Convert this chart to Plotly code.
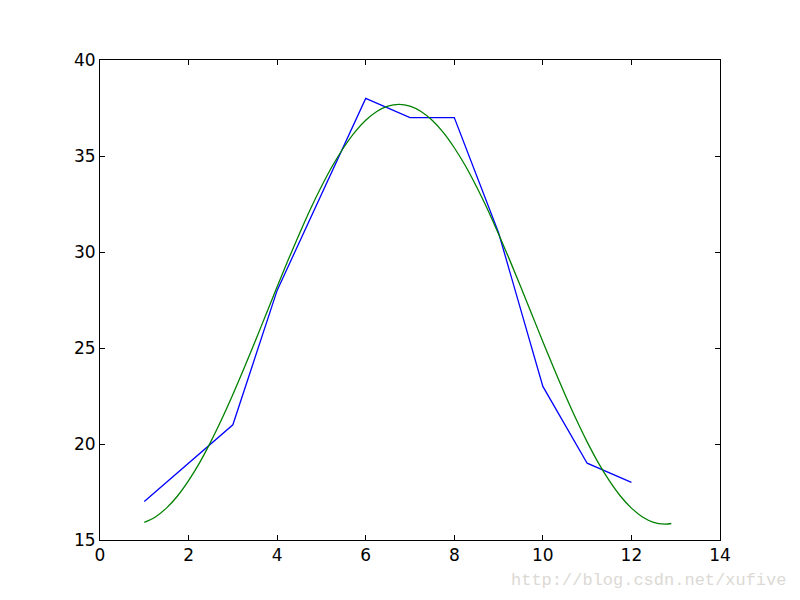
import plotly.graph_objects as go

# Monthly data (blue line)
months = [1, 2, 3, 4, 5, 6, 7, 8, 9, 10, 11, 12]
temps = [17, 19, 21, 28, 33, 38, 37, 37, 31, 23, 19, 18]

# Fitted curve (green)
fit_x = [1.0, 1.25, 1.5, 1.75, 2.0, 2.25, 2.5, 2.75, 3.0, 3.25, 3.5, 3.75,
         4.0, 4.25, 4.5, 4.75, 5.0, 5.25, 5.5, 5.75, 6.0, 6.25, 6.5, 6.75,
         7.0, 7.25, 7.5, 7.75, 8.0, 8.25, 8.5, 8.75, 9.0, 9.25, 9.5, 9.75,
         10.0, 10.25, 10.5, 10.75, 11.0, 11.25, 11.5, 11.75, 12.0, 12.25,
         12.5, 12.75, 12.9]
fit_y = [15.92, 16.20, 16.66, 17.29, 18.09, 19.03, 20.11, 21.30, 22.58, 23.93,
         25.33, 26.76, 28.19, 29.59, 30.94, 32.23, 33.41, 34.49, 35.43, 36.23,
         36.86, 37.32, 37.60, 37.69, 37.60, 37.32, 36.86, 36.23, 35.43, 34.49,
         33.41, 32.23, 30.94, 29.59, 28.19, 26.76, 25.33, 23.93, 22.58, 21.30,
         20.11, 19.03, 18.09, 17.29, 16.66, 16.20, 15.92, 15.83, 15.86]

x_ticks = [0, 2, 4, 6, 8, 10, 12, 14]
y_ticks = [15, 20, 25, 30, 35, 40]

fig = go.Figure()
fig.add_trace(go.Scatter(x=months, y=temps, mode="lines",
                         line=dict(color="#0000ff", width=1.3)))
fig.add_trace(go.Scatter(x=fit_x, y=fit_y, mode="lines", line_shape="spline",
                         line=dict(color="#008000", width=1.3)))

axis_common = dict(showgrid=False, zeroline=False, showline=True,
                   linecolor="black", linewidth=1, mirror="allticks",
                   ticks="inside", ticklen=5, tickcolor="black",
                   tickfont=dict(family="DejaVu Sans", size=17, color="black"))

fig.update_xaxes(range=[0, 14], tickvals=x_ticks, **axis_common)
fig.update_yaxes(range=[15, 40], tickvals=y_ticks, **axis_common)

fig.add_annotation(text="http://blog.csdn.net/xufive", xref="paper", yref="paper",
                   x=1.11, y=-0.085, xanchor="right", yanchor="middle",
                   showarrow=False,
                   font=dict(family="Liberation Mono", size=17, color="#dcd9d4"))

fig.update_layout(width=792, height=592, showlegend=False,
                  margin=dict(l=92, r=80, t=52, b=60),
                  plot_bgcolor="white", paper_bgcolor="white")

fig.write_html("out.html")
